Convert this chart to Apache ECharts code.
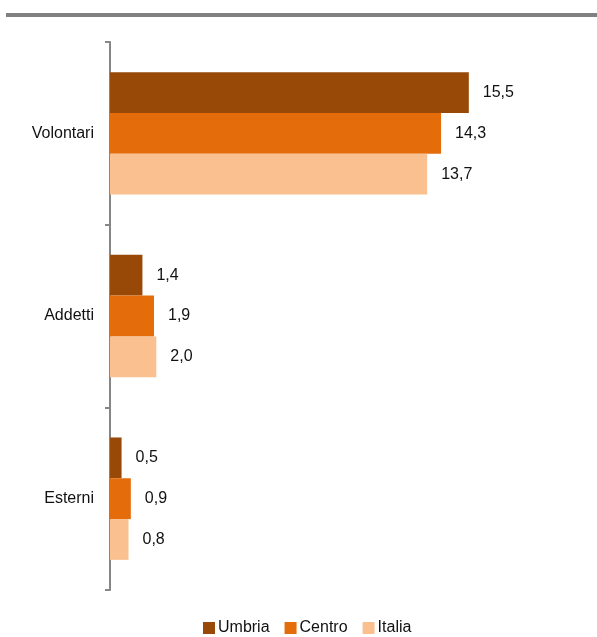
<!DOCTYPE html>
<html><head><meta charset="utf-8">
<script src="https://cdn.jsdelivr.net/npm/echarts@6/dist/echarts.min.js"></script>
<style>html,body{margin:0;padding:0;background:#fff}#c{width:597px;height:637px}</style>
</head><body><div id="c"></div>
<script>
const categories = ['Volontari', 'Addetti', 'Esterni'];
const seriesNames = ['Umbria', 'Centro', 'Italia'];
const umbria = [15.5, 1.4, 0.5];
const centro = [14.3, 1.9, 0.9];
const italia = [13.7, 2.0, 0.8];
const colors = ['#984807', '#E46C0A', '#FAC090'];
const values = [umbria, centro, italia];

const chart = echarts.init(document.getElementById('c'), null, {renderer: 'canvas'});
const font = 'Liberation Sans, Arial, sans-serif';
chart.setOption({
  animation: false,
  graphic: [{type: 'rect', shape: {x: 6, y: 13, width: 591, height: 4}, style: {fill: '#808080'}}],
  grid: {left: 110, top: 42, width: 463, height: 548, containLabel: false},
  xAxis: {type: 'value', min: 0, max: 20, show: false},
  yAxis: {
    type: 'category', data: categories, inverse: true,
    axisLine: {lineStyle: {color: '#868686', width: 2}},
    axisTick: {show: true, length: 5, lineStyle: {color: '#868686', width: 2}},
    axisLabel: {color: '#111', fontFamily: font, fontSize: 16, margin: 16}
  },
  legend: {
    top: 620, left: 203, padding: 0, itemWidth: 12, itemHeight: 12, itemGap: 15,
    icon: 'rect',
    textStyle: {color: '#111', fontFamily: font, fontSize: 16, padding: [0, 0, 0, -2]},
    data: seriesNames
  },
  series: seriesNames.map((n, i) => ({
    name: n, type: 'bar', data: values[i],
    itemStyle: {color: colors[i]},
    barGap: '0%', barCategoryGap: '33%',
    label: {show: true, position: 'right', distance: 14, color: '#111', fontFamily: font, fontSize: 16,
      formatter: p => p.value.toFixed(1).replace('.', ',')}
  }))
});
</script></body></html>
